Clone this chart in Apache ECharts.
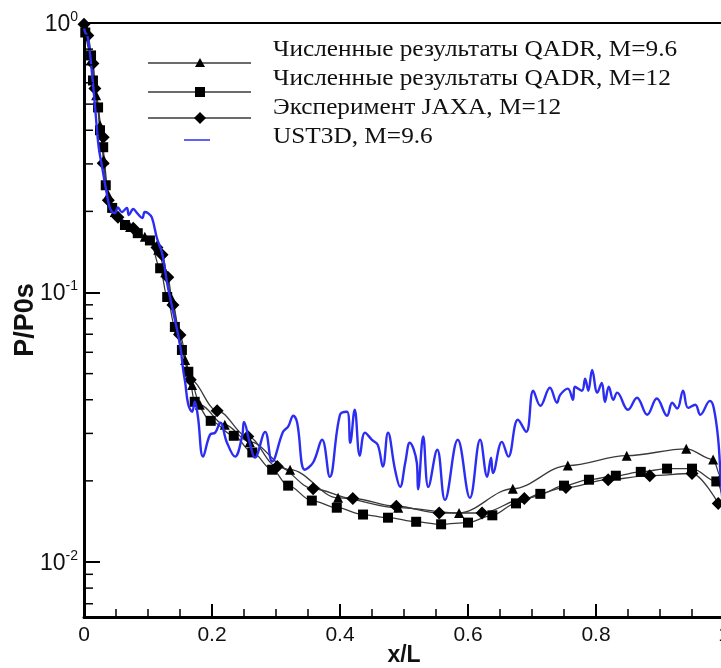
<!DOCTYPE html>
<html>
<head>
<meta charset="utf-8">
<script src="https://cdn.jsdelivr.net/npm/echarts/dist/echarts.min.js"></script>
<style>
  html, body { margin: 0; padding: 0; background: #fff; }
  #chart { width: 721px; height: 668px; }
</style>
</head>
<body>
<div id="chart"></div>
<script>
// Surface pressure P/P0s along x/L

// QADR, M=9.6 (triangles)
const qadr96 = [
  [0.003,0.954],[0.013,0.739],[0.019,0.539],[0.025,0.417],[0.031,0.310],[0.038,0.230],
  [0.048,0.199],[0.072,0.175],[0.095,0.161],[0.116,0.144],[0.127,0.119],[0.138,0.0938],
  [0.147,0.0726],[0.158,0.0562],[0.169,0.0454],[0.181,0.0383],[0.220,0.0323],[0.259,0.0279],
  [0.322,0.0220],[0.397,0.0173],[0.491,0.0159],[0.586,0.0152],[0.670,0.0187],[0.756,0.0228],
  [0.848,0.0248],[0.941,0.0263],[0.983,0.0240],[0.995,0.0207]
];
const qadr96End = [1.0, 0.0190];

// QADR, M=12 (squares)
const qadr12 = [
  [0.002,0.922],[0.011,0.758],[0.014,0.612],[0.022,0.486],[0.025,0.400],[0.030,0.346],
  [0.034,0.250],[0.044,0.206],[0.064,0.178],[0.084,0.166],[0.103,0.156],[0.119,0.123],
  [0.130,0.0962],[0.142,0.0745],[0.153,0.0612],[0.163,0.0508],[0.173,0.0393],[0.198,0.0334],
  [0.234,0.0294],[0.263,0.0255],[0.294,0.0220],[0.319,0.0192],[0.356,0.0169],[0.395,0.0159],
  [0.436,0.0150],[0.475,0.0146],[0.519,0.0141],[0.558,0.0138],[0.600,0.0140],[0.638,0.0149],
  [0.675,0.0165],[0.713,0.0179],[0.750,0.0192],[0.789,0.0202],[0.831,0.0209],[0.870,0.0216],
  [0.911,0.0222],[0.950,0.0222],[0.988,0.0199]
];
const qadr12End = [1.0, 0.0165];

// JAXA experiment, M=12 (diamonds)
const jaxa12 = [
  [0.000,0.990],[0.006,0.899],[0.014,0.708],[0.017,0.572],[0.030,0.377],[0.030,0.302],
  [0.038,0.220],[0.053,0.190],[0.077,0.173],[0.114,0.147],[0.122,0.138],[0.131,0.114],
  [0.139,0.0899],[0.150,0.0696],[0.166,0.0474],[0.208,0.0364],[0.256,0.0292],[0.302,0.0226],
  [0.358,0.0187],[0.420,0.0172],[0.488,0.0161],[0.555,0.0152],[0.622,0.0152],[0.688,0.0172],
  [0.753,0.0189],[0.819,0.0202],[0.884,0.0209],[0.950,0.0213],[0.991,0.0165]
];

// UST3D, M=9.6
const ust3d = [
  [0.000,0.954],[0.002,0.922],[0.006,0.884],[0.014,0.597],[0.020,0.410],[0.023,0.346],
  [0.030,0.277],[0.036,0.230],[0.041,0.204],[0.048,0.197],[0.053,0.207],[0.059,0.199],
  [0.067,0.206],[0.070,0.194],[0.077,0.204],[0.083,0.197],[0.091,0.189],[0.095,0.199],
  [0.100,0.197],[0.106,0.190],[0.114,0.159],[0.122,0.140],[0.130,0.108],[0.136,0.0922],
  [0.150,0.0640],[0.155,0.0516],[0.158,0.0466],[0.163,0.0383],[0.169,0.0361],[0.173,0.0393],
  [0.178,0.0346],[0.186,0.0246],[0.197,0.0297],[0.205,0.0302],[0.213,0.0329],[0.223,0.0279],
  [0.236,0.0246],[0.247,0.0292],[0.250,0.0331],[0.259,0.0277],[0.267,0.0244],[0.283,0.0304],
  [0.294,0.0236],[0.311,0.0304],[0.319,0.0318],[0.327,0.0349],[0.333,0.0329],[0.345,0.0220],
  [0.358,0.0234],[0.372,0.0284],[0.384,0.0207],[0.400,0.0352],[0.411,0.0361],[0.416,0.0277],
  [0.423,0.0367],[0.431,0.0248],[0.439,0.0302],[0.450,0.0284],[0.459,0.0272],[0.467,0.0226],
  [0.475,0.0302],[0.486,0.0220],[0.494,0.0190],[0.502,0.0234],[0.509,0.0277],[0.520,0.0234],
  [0.522,0.0186],[0.530,0.0292],[0.538,0.0190],[0.552,0.0261],[0.564,0.0170],[0.584,0.0284],
  [0.603,0.0173],[0.619,0.0284],[0.630,0.0207],[0.636,0.0244],[0.639,0.0214],[0.653,0.0279],
  [0.663,0.0246],[0.678,0.0337],[0.691,0.0304],[0.702,0.0432],[0.713,0.0380],[0.728,0.0443],
  [0.739,0.0390],[0.744,0.0417],[0.756,0.0440],[0.764,0.0400],[0.767,0.0447],[0.778,0.0432],
  [0.783,0.0479],[0.788,0.0432],[0.794,0.0516],[0.802,0.0425],[0.809,0.0462],[0.814,0.0393],
  [0.820,0.0447],[0.827,0.0400],[0.833,0.0425],[0.850,0.0367],[0.864,0.0407],[0.880,0.0352],
  [0.895,0.0404],[0.911,0.0349],[0.919,0.0390],[0.927,0.0371],[0.936,0.0432],[0.944,0.0373],
  [0.955,0.0383],[0.963,0.0352],[0.978,0.0396],[0.984,0.0373],[0.991,0.0284],[0.995,0.0202],
  [1.000,0.0144]
];

// Axis ticks and labels
const xTickLabels = ['0', '0.2', '0.4', '0.6', '0.8', '1'];
const yDecades = [1, 0.1, 0.01];
const yExponents = ['0', '-1', '-2'];
const yMinorTicks = [0.007, 0.008, 0.009,
  0.02, 0.03, 0.04, 0.05, 0.06, 0.07, 0.08, 0.09,
  0.2, 0.3, 0.4, 0.5, 0.6, 0.7, 0.8, 0.9];

const legendLabels = [
  'Численные результаты QADR, M=9.6',
  'Численные результаты QADR, M=12',
  'Эксперимент JAXA, M=12',
  'UST3D, M=9.6'
];

const SANS = '"Liberation Sans", Arial, sans-serif';
const SERIF = '"Liberation Serif", "Times New Roman", serif';
const LINE_GRAY = '#3a3a3a';
const BLUE = '#2b2df2';

function withEnd(points, end) {
  return points.concat([{ value: end, symbol: 'none' }]);
}

const chart = echarts.init(document.getElementById('chart'), null, { renderer: 'canvas' });

const blackSeries = (name, data, symbol, size) => ({
  name, type: 'line', data,
  smooth: 0.35, smoothMonotone: 'x',
  symbol, symbolSize: size,
  showAllSymbol: true,
  lineStyle: { color: LINE_GRAY, width: 1.3 },
  itemStyle: { color: '#000', borderWidth: 0 },
  z: 3, animation: false
});

const option = {
  animation: false,
  backgroundColor: '#fff',
  grid: {
    left: 84, right: -3, top: 23, bottom: 51,
    containLabel: false, outerBoundsMode: 'none',
    show: true, borderColor: '#000', borderWidth: 2, backgroundColor: 'transparent'
  },
  xAxis: {
    type: 'value', min: 0, max: 1, interval: 0.2,
    name: 'x/L', nameLocation: 'middle', nameGap: 27, nameMoveOverlap: false,
    nameTextStyle: { fontFamily: SANS, fontWeight: 'bold', fontSize: 23, color: '#111' },
    axisLine: { show: true, onZero: false, lineStyle: { color: '#000', width: 3 } },
    axisTick: { show: true, inside: true, length: 13, lineStyle: { color: '#000', width: 2 } },
    minorTick: { show: true, splitNumber: 4, length: 8, lineStyle: { color: '#000', width: 1.5 } },
    splitLine: { show: false },
    axisLabel: {
      margin: 8, fontFamily: SANS, fontSize: 21, color: '#111',
      showMinLabel: true, showMaxLabel: true, hideOverlap: false,
      formatter: v => xTickLabels[Math.round(v / 0.2)] || ''
    }
  },
  yAxis: {
    type: 'log', logBase: 10, min: 0.00625, max: 1,
    name: 'P/P0s', nameLocation: 'middle', nameGap: 45, nameRotate: 90, nameMoveOverlap: false,
    nameTextStyle: { fontFamily: SANS, fontWeight: 'bold', fontSize: 27, color: '#111' },
    axisLine: { show: true, lineStyle: { color: '#000', width: 3 } },
    axisTick: { show: true, inside: true, length: 16, lineStyle: { color: '#000', width: 2 } },
    splitLine: { show: false },
    axisLabel: {
      margin: 6, color: '#111', showMinLabel: true, hideOverlap: false,
      formatter: v => {
        const i = yDecades.findIndex(d => Math.abs(Math.log10(v) - Math.log10(d)) < 1e-6);
        return i < 0 ? '' : '{b|10}{s|' + yExponents[i] + '}';
      },
      rich: {
        b: { fontFamily: SANS, fontSize: 23, color: '#111', lineHeight: 26, verticalAlign: 'bottom' },
        s: { fontFamily: SANS, fontSize: 14, color: '#111', lineHeight: 26, verticalAlign: 'top' }
      }
    }
  },
  series: [
    {
      name: 'minor ticks', type: 'custom', silent: true, clip: false, z: 5,
      data: yMinorTicks.map(v => [0, v]),
      renderItem: (params, api) => {
        const p = api.coord([api.value(0), api.value(1)]);
        return {
          type: 'line',
          shape: { x1: p[0], y1: p[1], x2: p[0] + 9, y2: p[1] },
          style: { stroke: '#000', lineWidth: 1.5 }
        };
      }
    },
    blackSeries(legendLabels[0], withEnd(qadr96, qadr96End), 'triangle', 10),
    blackSeries(legendLabels[1], withEnd(qadr12, qadr12End), 'rect', 10),
    blackSeries(legendLabels[2], jaxa12, 'diamond', 13),
    {
      name: legendLabels[3], type: 'line', data: ust3d,
      smooth: 0.4, symbol: 'none',
      lineStyle: { color: BLUE, width: 2.4 },
      z: 4, animation: false
    }
  ]
};

// In-plot legend: line samples with symbols, labels to the right
const legendRows = [
  { lineY: 63, textY: 50, symbol: 'triangle' },
  { lineY: 92, textY: 79, symbol: 'rect' },
  { lineY: 118, textY: 108, symbol: 'diamond' },
  { lineY: 140, textY: 137, symbol: 'blue' }
];
const legendGraphics = [];
legendRows.forEach((row, i) => {
  if (row.symbol === 'blue') {
    legendGraphics.push({ type: 'line', shape: { x1: 184, y1: row.lineY, x2: 210, y2: row.lineY },
      style: { stroke: BLUE, lineWidth: 1.5 } });
  } else {
    legendGraphics.push({ type: 'line', shape: { x1: 148, y1: row.lineY, x2: 251, y2: row.lineY },
      style: { stroke: LINE_GRAY, lineWidth: 1.5 } });
    const cx = 200, cy = row.lineY;
    if (row.symbol === 'triangle') {
      legendGraphics.push({ type: 'polygon', shape: { points: [[cx, cy - 5], [cx - 5, cy + 4], [cx + 5, cy + 4]] }, style: { fill: '#000' } });
    } else if (row.symbol === 'rect') {
      legendGraphics.push({ type: 'rect', shape: { x: cx - 5, y: cy - 5, width: 10, height: 10 }, style: { fill: '#000' } });
    } else {
      legendGraphics.push({ type: 'polygon', shape: { points: [[cx, cy - 6], [cx + 6, cy], [cx, cy + 6], [cx - 6, cy]] }, style: { fill: '#000' } });
    }
  }
  legendGraphics.push({
    type: 'text', x: 273, y: row.textY, scaleX: 1.1,
    style: { text: legendLabels[i], font: '23px ' + SERIF, fill: '#111', verticalAlign: 'middle', align: 'left' }
  });
});
option.graphic = { elements: legendGraphics };

chart.setOption(option);
</script>
</body>
</html>
